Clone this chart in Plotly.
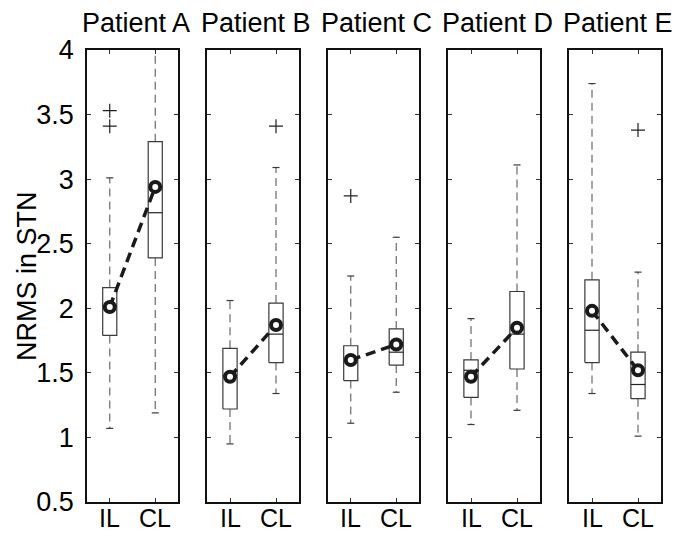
import plotly.graph_objects as go

# ---- data ----
patients = ["Patient A", "Patient B", "Patient C", "Patient D", "Patient E"]
group_labels = ["IL", "CL"]
group_pos = [1, 2]

il_lower = [1.07, 0.95, 1.11, 1.10, 1.34]
il_q1 = [1.79, 1.22, 1.44, 1.31, 1.58]
il_median = [2.02, 1.48, 1.60, 1.52, 1.83]
il_q3 = [2.16, 1.69, 1.71, 1.60, 2.22]
il_upper = [3.01, 2.06, 2.25, 1.92, 3.74]
il_mean = [2.01, 1.47, 1.60, 1.47, 1.98]
il_outliers = [[3.53, 3.41], [], [2.87], [], []]

cl_lower = [1.19, 1.34, 1.35, 1.21, 1.01]
cl_q1 = [2.39, 1.58, 1.56, 1.53, 1.30]
cl_median = [2.74, 1.80, 1.66, 1.80, 1.41]
cl_q3 = [3.29, 2.04, 1.84, 2.13, 1.66]
cl_upper = [4.10, 3.09, 2.55, 3.11, 2.28]
cl_mean = [2.94, 1.87, 1.72, 1.85, 1.52]
cl_outliers = [[], [3.41], [], [], [3.38]]

y_range = [0.5, 4.0]
y_label = "NRMS in STN"

# ---- style ----
W, H = 693, 533
ml, mr, mt, mb = 87, 32, 50, 31
panel_px = [(87, 178), (207, 299), (328, 419), (448, 540), (569, 661)]
pw = W - ml - mr
half_box = 0.155
half_cap = 0.077
FONT = "Liberation Sans, Arial, Helvetica, sans-serif"
FS = 27

fig = go.Figure()

for i, name in enumerate(patients):
    xa = "x" if i == 0 else f"x{i+1}"
    ya = "y" if i == 0 else f"y{i+1}"
    stats = [
        (group_pos[0], il_lower[i], il_q1[i], il_median[i], il_q3[i], il_upper[i], il_outliers[i]),
        (group_pos[1], cl_lower[i], cl_q1[i], cl_median[i], cl_q3[i], cl_upper[i], cl_outliers[i]),
    ]
    wx, wy, cx, cy, bx, by, mx, my, ox, oy = [], [], [], [], [], [], [], [], [], []
    for pos, lo, q1, med, q3, up, outs in stats:
        wx += [pos, pos, None, pos, pos, None]
        wy += [q3, up, None, q1, lo, None]
        cx += [pos - half_cap, pos + half_cap, None, pos - half_cap, pos + half_cap, None]
        cy += [up, up, None, lo, lo, None]
        bx += [pos - half_box, pos + half_box, pos + half_box, pos - half_box, pos - half_box, None]
        by += [q1, q1, q3, q3, q1, None]
        mx += [pos - half_box, pos + half_box, None]
        my += [med, med, None]
        ox += [pos] * len(outs)
        oy += list(outs)
    common = dict(xaxis=xa, yaxis=ya, showlegend=False, hoverinfo="skip")
    fig.add_trace(go.Scatter(x=wx, y=wy, mode="lines",
                             line=dict(color="#6a6a6a", width=1.2, dash="8px,5px"), **common))
    fig.add_trace(go.Scatter(x=bx, y=by, mode="lines",
                             line=dict(color="#3a3a3a", width=1.2), **common))
    fig.add_trace(go.Scatter(x=mx, y=my, mode="lines",
                             line=dict(color="#222222", width=1.2), **common))
    fig.add_trace(go.Scatter(x=cx, y=cy, mode="lines",
                             line=dict(color="#3a3a3a", width=1.2), **common))
    fig.add_trace(go.Scatter(x=ox, y=oy, mode="markers",
                             marker=dict(symbol="cross-thin", size=10,
                                         line=dict(color="#222222", width=1.2)), **common))
    fig.add_trace(go.Scatter(x=group_pos, y=[il_mean[i], cl_mean[i]], mode="lines+markers",
                             line=dict(color="#1a1a1a", width=3.5, dash="10px,6px"),
                             marker=dict(symbol="circle", size=10, color="white",
                                         line=dict(color="#1a1a1a", width=4)),
                             **common))

    x0, x1 = panel_px[i]
    dom = [(x0 - ml) / pw, (x1 - ml) / pw]
    axis_common = dict(showline=True, linecolor="#111111", linewidth=1.5, mirror="ticks",
                       ticks="inside", ticklen=4, tickcolor="#333333", tickwidth=1,
                       showgrid=False, zeroline=False, fixedrange=True, automargin=False)
    fig.layout[("xaxis" if i == 0 else f"xaxis{i+1}")] = dict(
        domain=dom, anchor=ya, range=[0.5, 2.5], tickmode="array",
        tickvals=group_pos, showticklabels=False, **axis_common)
    fig.layout[("yaxis" if i == 0 else f"yaxis{i+1}")] = dict(
        domain=[0, 1], anchor=xa, range=y_range, tick0=0.5, dtick=0.5,
        showticklabels=(i == 0), ticklabelstandoff=6, **axis_common)
    fig.add_annotation(text=name, xref=f"{xa} domain", yref="paper", x=0.5, y=1,
                       xanchor="center", yanchor="bottom", yshift=10, xshift=3,
                       showarrow=False, font=dict(size=FS, family=FONT, color="black"))
    # group labels under each panel, placed at the group positions on the x axis
    for pos, lab in zip(group_pos, group_labels):
        fig.add_annotation(text=lab, xref=xa, yref="paper", x=pos, y=0,
                           xanchor="center", yanchor="middle", yshift=-16, showarrow=False,
                           font=dict(size=FS - 2, family=FONT, color="black"))

fig.add_annotation(text=y_label, xref="paper", yref="paper", x=0, y=0.5, textangle=-90,
                   xanchor="center", yanchor="middle", xshift=-60, showarrow=False,
                   font=dict(size=FS, family=FONT, color="black"))

fig.update_layout(width=W, height=H, margin=dict(l=ml, r=mr, t=mt, b=mb),
                  plot_bgcolor="white", paper_bgcolor="white",
                  font=dict(family=FONT, size=FS, color="black"), showlegend=False)

fig.write_html("out.html", config={"displayModeBar": False},
               post_script="document.body.style.margin='0px';")
